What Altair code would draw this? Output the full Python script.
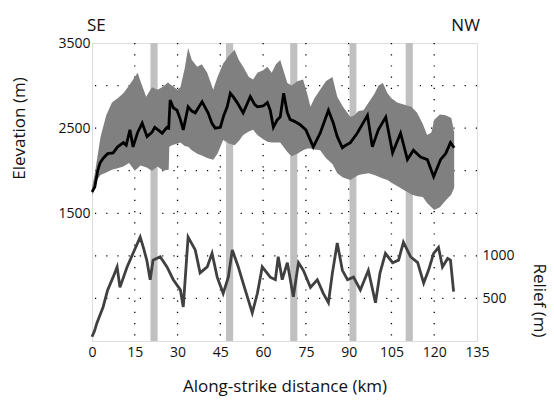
import altair as alt
import pandas as pd

# ---- data ----
x_ticks = [0, 15, 30, 45, 60, 75, 90, 105, 120, 135]
grid_km = [15, 30, 45, 60, 75, 90, 105, 120]
grid_m = [500, 1000, 1500, 2000, 2500, 3000]
elev_labels = [1500, 2500, 3500]
relief_labels = [500, 1000]

band_start = [20.5, 47.0, 69.5, 90.3, 110.0]
band_end = [23.0, 49.5, 72.0, 92.7, 112.5]

area_km = [0, 1, 3, 5, 7, 9, 11, 13, 15, 16, 17, 19, 21, 23, 25, 26.7, 26.9, 27.1, 28, 30, 31,
           32.5, 33.7, 35, 36.9, 38.5, 40.4, 42.5, 44, 46, 48, 50, 51.5, 53, 55, 56.5, 58, 60,
           61.5, 63, 64.5, 66, 68.5, 70, 72, 74, 75.5, 76.6, 78, 80, 82, 84.3, 86, 88, 90.6,
           92, 93.5, 95.2, 97, 99, 100.5, 102, 103.6, 105, 107, 109, 111, 112, 114, 116, 117.5,
           119, 120, 122, 124, 126, 127]
area_hi = [1800, 1970, 2400, 2650, 2800, 2850, 2910, 3000, 3100, 3150, 3050, 2870, 2980, 2950,
           2990, 3040, 3030, 3020, 3000, 2950, 2980, 3200, 3440, 3300, 3220, 3250, 3150, 2950,
           3100, 3260, 3350, 3420, 3300, 3220, 3100, 3070, 3150, 3180, 3220, 3150, 3250, 3300,
           3030, 3000, 3050, 3070, 2900, 2750, 2850, 2950, 3050, 3100, 2870, 2750, 2630, 2650,
           2700, 2710, 2800, 2900, 3000, 3030, 2910, 2850, 2800, 2780, 2760, 2750, 2680, 2550,
           2420, 2450, 2600, 2660, 2650, 2620, 2450]
area_lo = [1700, 1860, 1950, 1980, 2010, 2030, 2050, 2090, 2000, 2030, 2060, 2040, 2000, 2050,
           2000, 2010, 2010, 2280, 2300, 2320, 2330, 2290, 2280, 2240, 2200, 2180, 2150, 2130,
           2200, 2360, 2320, 2300, 2350, 2420, 2460, 2480, 2420, 2370, 2340, 2330, 2330, 2330,
           2220, 2170, 2200, 2240, 2260, 2260, 2250, 2240, 2150, 2080, 1970, 1920, 1890, 1920,
           1950, 1960, 1970, 1950, 1930, 1910, 1890, 1860, 1820, 1780, 1740, 1720, 1700, 1690,
           1620, 1570, 1540, 1570, 1650, 1720, 1800]

elev_km = [0, 1, 2, 2.8, 4, 5.5, 7.4, 9, 11, 12, 13.3, 14.4, 16, 17.6, 19.3, 21, 22, 23.5, 24.6,
           26.3, 26.9, 27.4, 28.5, 29.8, 31, 32, 33.7, 35, 36.2, 38.6, 40.7, 42, 43.2, 45, 46.2,
           47.4, 48.5, 49.5, 50.9, 53, 55.5, 57, 58, 60, 61.5, 62.5, 63.6, 65, 66, 67.2, 68.5,
           69.5, 71, 73, 75, 77.6, 80, 82.9, 84.6, 86, 87.8, 89, 90.6, 93, 96.6, 98.3, 100.4,
           103, 105.4, 108.2, 110.6, 112.7, 115.2, 117.6, 119.8, 122.2, 124, 125.7, 127]
elev_mean = [1750, 1810, 2000, 2090, 2150, 2200, 2210, 2280, 2330, 2300, 2480, 2280, 2450, 2560,
             2400, 2450, 2510, 2470, 2440, 2510, 2500, 2830, 2740, 2710, 2600, 2480, 2750, 2700,
             2680, 2810, 2680, 2560, 2500, 2510, 2650, 2750, 2910, 2870, 2800, 2680, 2870, 2780,
             2750, 2760, 2800, 2710, 2510, 2600, 2630, 2910, 2680, 2600, 2580, 2540, 2480, 2280,
             2440, 2710, 2560, 2400, 2270, 2300, 2330, 2440, 2650, 2280, 2480, 2630, 2210, 2440,
             2130, 2240, 2160, 2130, 1930, 2130, 2200, 2330, 2270]

relief_km = [0, 0.9, 1.7, 3.9, 5.5, 7.4, 8.8, 9.8, 12.3, 14.4, 16.9, 18, 19.2, 20.4, 21.4, 23.9,
             26.3, 28.5, 31, 32, 33.7, 36.2, 37.9, 40.4, 42.1, 43.9, 46, 47.8, 49.2, 51.3, 53,
             56.2, 58, 59.7, 62.5, 64.3, 65.3, 66.7, 68.5, 70.6, 72.4, 74.1, 76.6, 79, 81.1,
             82.9, 84.3, 86, 87.8, 89.6, 91.7, 94.1, 96.9, 99.4, 101, 102.9, 105.4, 107.5, 109.2,
             111.7, 114.2, 116.3, 118, 119.8, 121.5, 122.9, 124.7, 125.7, 126.8]
relief_val = [50, 120, 210, 400, 600, 750, 870, 630, 870, 1030, 1220, 1100, 950, 720, 950, 990,
              870, 720, 600, 400, 1220, 1070, 800, 870, 1030, 750, 560, 750, 1070, 870, 680,
              330, 560, 870, 750, 720, 990, 720, 920, 520, 920, 830, 630, 720, 560,
              450, 800, 1150, 830, 720, 750, 600, 830, 450, 800, 1030, 920, 950, 1160,
              990, 920, 680, 830, 1030, 1100, 870, 970, 950, 580]

side_text = ["SE", "NW"]
side_km = [1.5, 131]

FONT = "Open Sans"
TXT = "#111111"

area_df = pd.DataFrame({"km": area_km, "hi": area_hi, "lo": area_lo})
elev_df = pd.DataFrame({"km": elev_km, "elev": elev_mean})
relief_df = pd.DataFrame({"km": relief_km, "relief": relief_val})
band_df = pd.DataFrame({"a": band_start, "b": band_end})
gx_df = pd.DataFrame({"km": grid_km})
gy_df = pd.DataFrame({"m": grid_m})
side_df = pd.DataFrame({"t": side_text, "km": side_km})

xscale = alt.Scale(domain=[0, 135], nice=False, zero=False)
yscale = alt.Scale(domain=[0, 3500], nice=False, zero=False)
xaxis = alt.Axis(values=x_ticks, title="Along-strike distance (km)", grid=False, format="d",
                 ticks=False, domain=False, labelPadding=4, labelFontSize=14,
                 titleFontSize=17, titleFontWeight="normal", titlePadding=19,
                 labelColor=TXT, titleColor=TXT, labelFont=FONT, titleFont=FONT,
                 labelFlush=False)

def X(field):
    return alt.X(field, type="quantitative", scale=xscale, axis=xaxis)

dash = [1.2, 10]
grid_x = alt.Chart(gx_df).mark_rule(color="#000", strokeDash=dash, strokeWidth=1.3).encode(
    x=X("km"))
grid_y = alt.Chart(gy_df).mark_rule(color="#000", strokeDash=dash, strokeWidth=1.3).encode(
    y=alt.Y("m", type="quantitative", scale=yscale, axis=None))
bands = alt.Chart(band_df).mark_rect(color="#c0c0c0").encode(
    x=X("a"), x2="b")
area = alt.Chart(area_df).mark_area(color="#808080", opacity=1).encode(
    x=X("km"),
    y=alt.Y("hi", type="quantitative", scale=yscale,
            axis=alt.Axis(values=elev_labels, title="Elevation (m)", grid=False, ticks=False,
                          format="d", domain=False, labelPadding=2, labelFontSize=14,
                          titleFontSize=17, titleFontWeight="normal", labelColor=TXT,
                          titleColor=TXT, labelFont=FONT, titleFont=FONT, titleX=-64,
                          titleY=85, labelFlush=False)),
    y2="lo")
elev = alt.Chart(elev_df).mark_line(color="#000", strokeWidth=2.8).encode(
    x=X("km"), y=alt.Y("elev", type="quantitative", scale=yscale, axis=None))
relief = alt.Chart(relief_df).mark_line(color="#404040", strokeWidth=2.8).encode(
    x=X("km"),
    y=alt.Y("relief", type="quantitative", scale=yscale,
            axis=alt.Axis(orient="right", values=relief_labels, title="Relief (m)", grid=False,
                          format="d", ticks=False, domain=False, labelPadding=5,
                          labelFontSize=14, titleFontSize=17, titleFontWeight="normal",
                          labelColor=TXT, titleColor=TXT, labelFont=FONT, titleFont=FONT,
                          titleX=52, titleY=257, labelFlush=False)))
side = alt.Chart(side_df).mark_text(fontSize=17, font=FONT, color=TXT,
                                    baseline="alphabetic").encode(
    x=X("km"), y=alt.value(-12), text="t")

chart = alt.layer(grid_x, grid_y, bands, area, elev, relief, side).resolve_scale(
    y="independent").properties(
    width=385, height=298,
    autosize=alt.AutoSizeParams(type="none"),
    padding={"left": 92, "top": 43, "right": 77, "bottom": 64},
).configure_view(stroke="#000", strokeWidth=1.2).configure(background="white")

chart.save("out.html", embed_options={"renderer": "svg", "actions": False})
